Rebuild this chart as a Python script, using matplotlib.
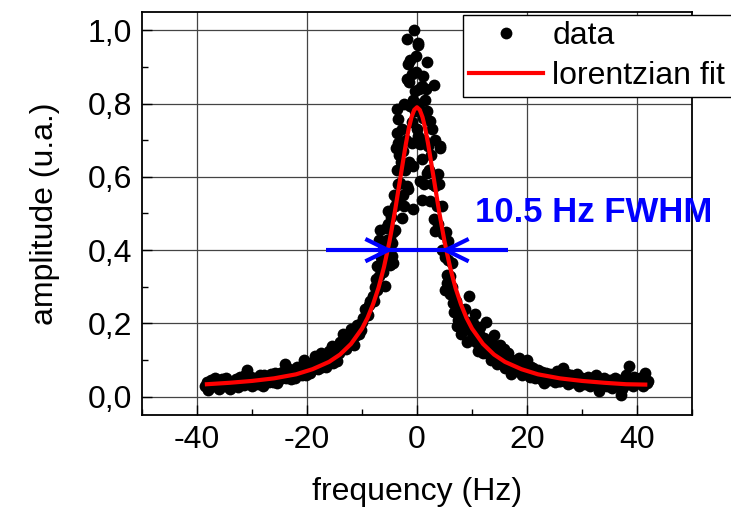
import matplotlib
matplotlib.use('Agg')
import matplotlib.pyplot as plt
from matplotlib.ticker import MultipleLocator, FuncFormatter
import numpy as np

plt.rcParams['font.family'] = ['Liberation Sans', 'DejaVu Sans']
plt.rcParams['axes.unicode_minus'] = False

# measured data: tails every 0.5 Hz (two interleaved sweeps), central part read point by point
tail_left_x = [-38.5, -38.0, -37.5, -37.0, -36.5, -36.0, -35.5, -35.0, -34.5, -34.0,
               -33.5, -33.0, -32.5, -32.0, -31.5, -31.0, -30.5, -30.0, -29.5, -29.0,
               -28.5, -28.0, -27.5, -27.0, -26.5, -26.0, -25.5, -25.0, -24.5, -24.0,
               -23.5, -23.0, -22.5, -22.0, -21.5, -21.0, -20.5, -20.0, -19.5, -19.0,
               -18.5, -18.0, -17.5, -17.0, -16.5, -16.0, -15.5, -15.0, -14.5, -14.0,
               -13.5, -13.0, -12.5, -12.0, -11.5, -11.0, -10.5, -10.0, -9.5, -9.0, -8.5]
tail_left_y = [0.030, 0.018, 0.045, 0.028, 0.040, 0.022, 0.047, 0.030, 0.041, 0.020,
               0.036, 0.048, 0.027, 0.044, 0.033, 0.072, 0.050, 0.029, 0.046, 0.035,
               0.058, 0.030, 0.052, 0.040, 0.062, 0.045, 0.036, 0.064, 0.050, 0.088,
               0.060, 0.047, 0.072, 0.056, 0.078, 0.060, 0.100, 0.085, 0.064, 0.096,
               0.112, 0.075, 0.118, 0.096, 0.082, 0.125, 0.138, 0.112, 0.098, 0.150,
               0.172, 0.130, 0.168, 0.185, 0.140, 0.195, 0.172, 0.205, 0.238, 0.222, 0.262]
tail_left2_x = [-38.25, -37.75, -37.25, -36.75, -36.25, -35.75, -35.25, -34.75, -34.25, -33.75,
                -33.25, -32.75, -32.25, -31.75, -31.25, -30.75, -30.25, -29.75, -29.25, -28.75,
                -28.25, -27.75, -27.25, -26.75, -26.25, -25.75, -25.25, -24.75, -24.25, -23.75,
                -23.25, -22.75, -22.25, -21.75, -21.25, -20.75, -20.25, -19.75, -19.25, -18.75,
                -18.25, -17.75, -17.25, -16.75, -16.25, -15.75, -15.25, -14.75, -14.25, -13.75,
                -13.25, -12.75, -12.25, -11.75, -11.25, -10.75, -10.25, -9.75, -9.25, -8.75]
tail_left2_y = [0.040, 0.025, 0.038, 0.050, 0.030, 0.026, 0.043, 0.052, 0.032, 0.028,
                0.042, 0.035, 0.054, 0.038, 0.060, 0.040, 0.055, 0.036, 0.052, 0.042,
                0.036, 0.060, 0.044, 0.055, 0.040, 0.066, 0.048, 0.058, 0.070, 0.052,
                0.075, 0.062, 0.050, 0.082, 0.066, 0.080, 0.058, 0.088, 0.072, 0.090,
                0.100, 0.092, 0.080, 0.110, 0.102, 0.120, 0.092, 0.130, 0.118, 0.140,
                0.155, 0.148, 0.160, 0.172, 0.165, 0.190, 0.182, 0.215, 0.240, 0.250]

center_x = [-8.0, -7.6, -7.3, -7.3, -7.0, -7.0, -6.7, -6.5, -6.2, -5.8, -5.8, -5.5,
            -5.2, -5.2, -5.0, -4.6, -4.3, -4.3, -4.0, -4.0, -3.7, -3.7, -3.7, -3.4,
            -3.4, -3.2, -3.1, -3.1, -2.8, -2.8, -2.5, -2.2, -1.9, -1.9, -1.8, -1.7,
            -1.6, -1.3, -1.0, -1.0, -0.7, -0.7, -0.7, -0.5, -0.4, -0.1, 0.0, 0.1,
            0.2, 0.2, 0.55, 0.85, 0.85, 0.85, 1.15, 1.45, 1.75, 1.75, 1.8, 2.05,
            2.4, 2.4, 2.7, 3.0, 3.0, 3.3, 3.3, 3.9, 4.2, 4.2, 4.5, 4.8,
            5.1, 5.4, 5.5, 5.7, 5.7, 6.0, 6.3, 6.6, 6.8, 7.2, 7.5, 8.0]
center_y = [0.275, 0.300, 0.292, 0.356, 0.330, 0.429, 0.456, 0.380, 0.340, 0.301, 0.400, 0.429,
            0.506, 0.470, 0.360, 0.383, 0.365, 0.450, 0.456, 0.520, 0.538, 0.620, 0.786, 0.757,
            0.693, 0.660, 0.694, 0.584, 0.730, 0.488, 0.550, 0.620, 0.868, 0.575, 0.975, 0.909,
            0.566, 0.793, 0.693, 0.750, 0.811, 0.629, 0.511, 1.000, 0.834, 0.886, 0.730, 0.966,
            0.960, 0.711, 0.588, 0.848, 0.648, 0.538, 0.875, 0.811, 0.780, 0.611, 0.913, 0.684,
            0.752, 0.534, 0.730, 0.852, 0.484, 0.575, 0.452, 0.607, 0.683, 0.679, 0.520, 0.443,
            0.292, 0.333, 0.310, 0.374, 0.424, 0.280, 0.365, 0.256, 0.230, 0.192, 0.210, 0.170]
center2_x = [-7.8, -7.5, -6.9, -6.4, -6.0, -5.6, -5.4, -4.9, -4.8, -4.5, -4.2, -3.9,
             -3.6, -3.5, -3.0, -2.6, -2.4, -2.3, -2.0, -1.5, -1.4, -1.2, -0.9, -0.3,
             -0.2, 0.3, 0.4, 0.6, 1.0, 1.2, 1.3, 1.6, 2.2, 2.6, 2.8, 3.2,
             3.6, 3.8, 4.0, 4.6, 5.0, 5.3, 6.0, 6.4, 7.0, 7.7, 8.2]
center2_y = [0.260, 0.320, 0.360, 0.420, 0.370, 0.460, 0.390, 0.430, 0.490, 0.420, 0.550, 0.680,
             0.720, 0.580, 0.640, 0.670, 0.800, 0.520, 0.700, 0.860, 0.640, 0.920, 0.880, 0.780,
             0.930, 0.840, 0.800, 0.690, 0.760, 0.700, 0.580, 0.840, 0.620, 0.660, 0.580, 0.700,
             0.520, 0.470, 0.580, 0.400, 0.380, 0.450, 0.330, 0.300, 0.260, 0.240, 0.220]

tail_right_x = [8.5, 9.0, 9.5, 10.0, 10.5, 11.0, 11.5, 12.0, 12.5, 13.0, 13.5, 14.0,
                14.5, 15.0, 15.5, 16.0, 16.5, 17.0, 17.5, 18.0, 18.5, 19.0, 19.5, 20.0,
                20.5, 21.0, 21.5, 22.0, 22.5, 23.0, 23.5, 24.0, 24.5, 25.0, 25.5, 26.0,
                26.5, 27.0, 27.5, 28.0, 28.5, 29.0, 29.5, 30.0, 30.5, 31.0, 31.5, 32.0,
                32.5, 33.0, 33.5, 34.0, 34.5, 35.0, 35.5, 36.0, 36.5, 37.0, 37.5, 38.0,
                38.5, 39.0, 39.5, 40.0, 40.5, 41.0, 41.5, 42.0]
tail_right_y = [0.190, 0.150, 0.275, 0.160, 0.225, 0.125, 0.190, 0.118, 0.205, 0.150, 0.100, 0.168,
                0.088, 0.140, 0.110, 0.078, 0.120, 0.062, 0.098, 0.075, 0.105, 0.060, 0.090, 0.100,
                0.055, 0.078, 0.050, 0.072, 0.048, 0.037, 0.066, 0.045, 0.060, 0.040, 0.070, 0.042,
                0.078, 0.052, 0.035, 0.058, 0.040, 0.062, 0.028, 0.050, 0.035, 0.055, 0.030, 0.048,
                0.058, 0.015, 0.040, 0.052, 0.030, 0.046, 0.025, 0.050, 0.032, 0.005, 0.042, 0.060,
                0.083, 0.035, 0.055, 0.040, 0.050, 0.030, 0.065, 0.042]
tail_right2_x = [8.75, 9.25, 9.75, 10.25, 10.75, 11.25, 11.75, 12.25, 12.75, 13.25, 13.75, 14.25,
                 14.75, 15.25, 15.75, 16.25, 16.75, 17.25, 17.75, 18.25, 18.75, 19.25, 19.75, 20.25,
                 20.75, 21.25, 21.75, 22.25, 22.75, 23.25, 23.75, 24.25, 24.75, 25.25, 25.75, 26.25,
                 26.75, 27.25, 27.75, 28.25, 28.75, 29.25, 29.75, 30.25, 30.75, 31.25, 31.75, 32.25,
                 32.75, 33.25, 33.75, 34.25, 34.75, 35.25, 35.75, 36.25, 36.75, 37.25, 37.75, 38.25,
                 38.75, 39.25, 39.75, 40.25, 40.75, 41.25, 41.75]
tail_right2_y = [0.240, 0.205, 0.180, 0.200, 0.150, 0.170, 0.140, 0.160, 0.120, 0.135, 0.145, 0.105,
                 0.120, 0.095, 0.130, 0.100, 0.085, 0.100, 0.070, 0.090, 0.082, 0.070, 0.078, 0.065,
                 0.080, 0.060, 0.070, 0.058, 0.068, 0.052, 0.050, 0.062, 0.048, 0.056, 0.044, 0.060,
                 0.045, 0.062, 0.050, 0.040, 0.055, 0.045, 0.050, 0.038, 0.048, 0.040, 0.050, 0.036,
                 0.044, 0.035, 0.030, 0.045, 0.040, 0.030, 0.042, 0.028, 0.045, 0.020, 0.032, 0.048,
                 0.040, 0.028, 0.045, 0.036, 0.040, 0.052, 0.036]

# lorentzian fit curve
fit_x = [-38.2, -34, -30, -26, -22, -19, -16, -14, -12, -10, -9, -8, -7, -6, -5, -4,
         -3, -2, -1.5, -1, -0.5, 0, 0.5, 1, 1.5, 2, 3, 4, 5, 6, 7, 8,
         9, 10, 12, 14, 16, 19, 22, 26, 30, 34, 38, 41.5]
fit_y = [0.034, 0.038, 0.043, 0.050, 0.061, 0.075, 0.095, 0.115, 0.144, 0.186, 0.215, 0.252,
         0.297, 0.354, 0.424, 0.507, 0.600, 0.692, 0.732, 0.763, 0.783, 0.790, 0.783, 0.763,
         0.732, 0.692, 0.600, 0.507, 0.424, 0.354, 0.297, 0.252, 0.215, 0.186, 0.144, 0.115,
         0.095, 0.075, 0.061, 0.050, 0.043, 0.038, 0.034, 0.033]

fwhm = 10.5
half_max = 0.4
marker_span = 16.5  # half length of the blue line

x = np.array(tail_left_x + tail_left2_x + center_x + center2_x + tail_right_x + tail_right2_x)
y = np.array(tail_left_y + tail_left2_y + center_y + center2_y + tail_right_y + tail_right2_y)

fig = plt.figure(figsize=(7.31, 5.13), dpi=100)
ax = fig.add_axes([142 / 731, 1 - 415 / 513, 550 / 731, 403 / 513])

ax.grid(True, which='major', color='#444444', lw=0.9, zorder=0)
ax.set_axisbelow(True)

ax.plot(x, y, 'o', color='black', ms=8.5, mew=0, label='data', zorder=2)
ax.plot(fit_x, fit_y, '-', color='red', lw=3, label='lorentzian fit', zorder=3)

# FWHM marker
ax.plot([-marker_span, marker_span], [half_max, half_max], color='blue', lw=3,
        zorder=4, solid_capstyle='butt')
arm_dx, arm_dy = 3.8, 0.028
for side in (-1, 1):
    tip = side * fwhm / 2
    ax.plot([tip + side * arm_dx, tip, tip + side * arm_dx],
            [half_max + arm_dy, half_max, half_max - arm_dy],
            color='blue', lw=3, zorder=4)
ax.text(10.5, 0.503, '10.5 Hz FWHM', color='blue', fontsize=25, fontweight='bold',
        ha='left', va='center')

ax.set_xlim(-50, 50)
ax.set_ylim(-0.05, 1.05)
ax.xaxis.set_major_locator(MultipleLocator(20))
ax.xaxis.set_minor_locator(MultipleLocator(10))
ax.yaxis.set_major_locator(MultipleLocator(0.2))
ax.yaxis.set_minor_locator(MultipleLocator(0.1))
ax.set_xticks([-40, -20, 0, 20, 40])
ax.yaxis.set_major_formatter(FuncFormatter(lambda v, p: f'{v:.1f}'.replace('.', ',')))

ax.tick_params(which='both', direction='in', top=False, right=False, labelsize=23, width=1)
ax.tick_params(which='major', length=7, pad=7)
ax.tick_params(which='minor', length=4)
for s in ax.spines.values():
    s.set_linewidth(1.3)

ax.set_xlabel('frequency (Hz)', fontsize=23, labelpad=16)
ax.set_ylabel('amplitude (u.a.)', fontsize=23, labelpad=20)

leg = ax.legend(loc='upper left', bbox_to_anchor=(463 / 731, 1 - 15 / 513),
                bbox_transform=fig.transFigure, fontsize=23, numpoints=1,
                fancybox=False, framealpha=1, edgecolor='black', borderpad=0.2,
                labelspacing=0.3, handlelength=2.3, handletextpad=0.3, borderaxespad=0)
leg.get_frame().set_linewidth(1)
leg.set_zorder(5)

fig.savefig('out.png', dpi=100)
